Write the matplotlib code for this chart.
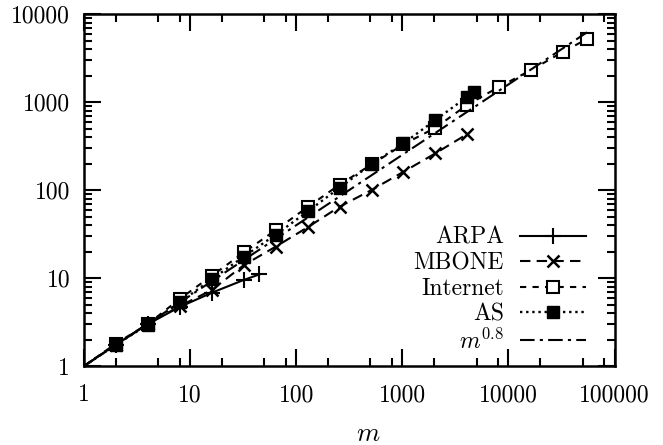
import numpy as np
import matplotlib
matplotlib.use("Agg")
import matplotlib.pyplot as plt
from matplotlib.ticker import LogLocator, FuncFormatter, NullFormatter

plt.rcParams["font.family"] = "cmr10"
plt.rcParams["mathtext.fontset"] = "cm"
plt.rcParams["axes.unicode_minus"] = False
plt.rcParams["axes.formatter.use_mathtext"] = True

# data
m_arpa = [1, 2, 4, 8, 16, 32, 45]
arpa = [1, 1.75, 3.0, 4.7, 6.8, 9.5, 11.0]

m_mbone = [1, 2, 4, 8, 16, 32, 64, 128, 256, 512, 1024, 2048, 4096]
mbone = [1, 1.75, 3.0, 4.8, 7.3, 14.0, 22.7, 37.7, 64.6, 100, 161, 261, 433]

m_internet = [1, 2, 4, 8, 16, 32, 64, 128, 256, 512, 1024, 2048, 4096,
              8192, 16384, 32768, 55000]
internet = [1, 1.8, 3.0, 5.8, 10.6, 19.5, 35, 64, 115, 195, 330, 510, 930,
            1490, 2310, 3730, 5200]

m_as = [1, 2, 4, 8, 16, 32, 64, 128, 256, 512, 1024, 2048, 4096, 4700]
as_vals = [1, 1.75, 2.95, 5.3, 9.7, 17.5, 31, 57, 106, 197, 339, 624, 1150, 1310]

exponent = 0.8
m_fit = np.array([1, 55000])
fit = m_fit ** exponent

fig = plt.figure(figsize=(6.63, 4.45), dpi=100)
ax = fig.add_axes([0.1267, 0.1775, 0.8003, 0.791])

skip = slice(1, None)
ax.plot(m_arpa, arpa, "k-", lw=1.5, marker="+", ms=11, mew=1.5,
        markevery=skip, label="ARPA")
ax.plot(m_mbone, mbone, "k", ls=(0, (5, 3)), lw=1.5, marker="x", ms=9, mew=1.8,
        markevery=skip, label="MBONE")
ax.plot(m_internet, internet, "k", ls=(0, (3, 3)), lw=1.5, marker="s", ms=8.5,
        mfc="white", mew=1.5, markevery=skip, label="Internet")
ax.plot(m_as, as_vals, "k", ls=(0, (1, 1.6)), lw=1.7, marker="s", ms=8.5,
        mfc="black", markevery=skip, label="AS")
ax.plot(m_fit, fit, "k", ls=(0, (7, 2.5, 1.5, 2.5)), lw=1.5,
        label=r"$m^{0.8}$")

ax.set_xscale("log")
ax.set_yscale("log")
ax.set_xlim(1, 100000)
ax.set_ylim(1, 10000)

fmt = FuncFormatter(lambda v, p: f"{v:g}")
ax.xaxis.set_major_locator(LogLocator(base=10, numticks=10))
ax.xaxis.set_minor_locator(LogLocator(base=10, subs=(2, 5, 8), numticks=20))
ax.yaxis.set_major_locator(LogLocator(base=10, numticks=10))
ax.yaxis.set_minor_locator(LogLocator(base=10, subs=np.arange(2, 10), numticks=20))
ax.xaxis.set_major_formatter(fmt)
ax.yaxis.set_major_formatter(fmt)
ax.xaxis.set_minor_formatter(NullFormatter())
ax.yaxis.set_minor_formatter(NullFormatter())

ax.tick_params(which="both", direction="in", top=True, right=True, width=1.5,
               labelsize=17)
ax.tick_params(which="major", length=12)
ax.tick_params(which="minor", length=6)
ax.tick_params(axis="x", which="major", pad=13)
ax.tick_params(axis="y", which="major", pad=10)
for s in ax.spines.values():
    s.set_linewidth(1.8)

ax.set_xlabel(r"$m$", fontsize=19)
ax.xaxis.set_label_coords(0.536, -0.16)

ax.legend(loc="lower right", bbox_to_anchor=(0.947, 0.035), frameon=False,
          markerfirst=False, fontsize=17, handlelength=2.8, handletextpad=0.7,
          labelspacing=0.14, borderpad=0, borderaxespad=0)

fig.savefig("out.png", dpi=100)
